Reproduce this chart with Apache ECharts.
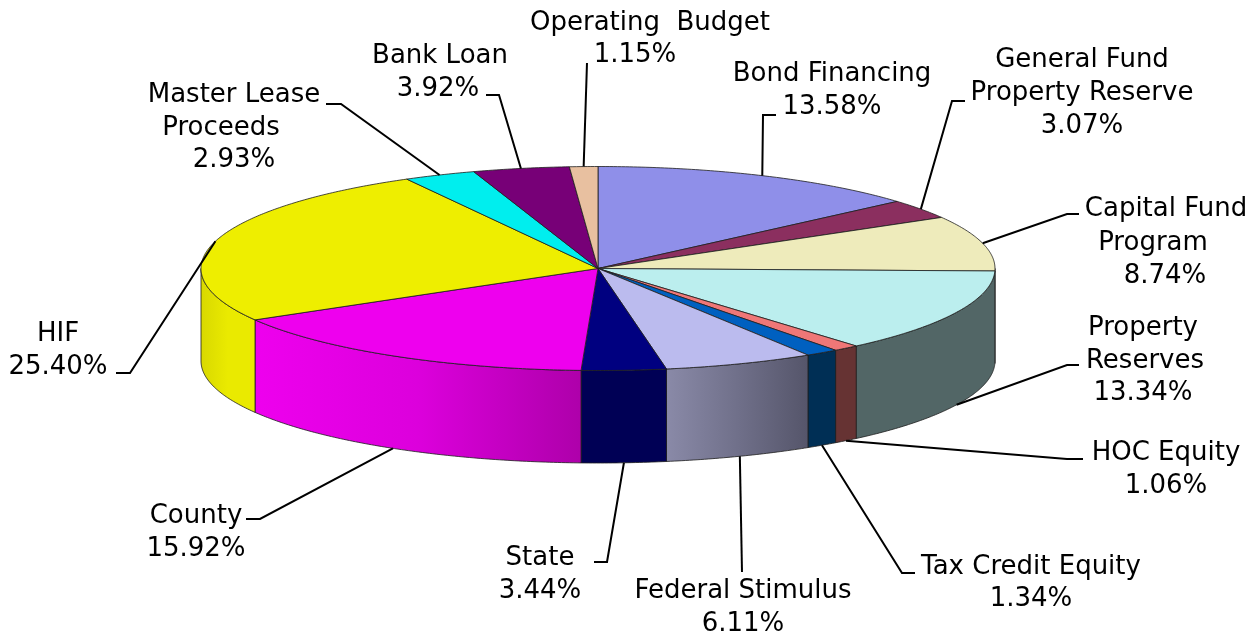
<!DOCTYPE html>
<html>
<head>
<meta charset="utf-8">
<style>
  html, body { margin: 0; padding: 0; background: #fff; }
  #chart { width: 1260px; height: 637px; }
</style>
<script src="https://cdn.jsdelivr.net/npm/echarts@6/dist/echarts.min.js"></script>
</head>
<body>
<div id="chart"></div>
<script>
// slices run clockwise from 12 o'clock
const names = ['Bond Financing', 'General Fund\nProperty Reserve', 'Capital Fund\nProgram', 'Property\nReserves',
    'HOC Equity', 'Tax Credit Equity', 'Federal Stimulus', 'State', 'County', 'HIF',
    'Master Lease\nProceeds', 'Bank Loan', 'Operating  Budget']
const shares = [13.58, 3.07, 8.74, 13.34, 1.06, 1.34, 6.11, 3.44, 15.92, 25.40, 2.93, 3.92, 1.15]

const topColors = ['#8f8fe9', '#8b2f5f', '#eeebbb', '#bbeeee', '#ef7777', '#0060c0', '#bbbbee',
    '#000080', '#ee00ee', '#eeee00', '#00eeee', '#770077', '#e8c0a0']
// left, middle, right of each wall
const wallColors = [['#5f5f9a', '#5f5f9a', '#5f5f9a'], ['#5c1f3f', '#5c1f3f', '#5c1f3f'], ['#66664f', '#66664f', '#66664f'],
    ['#526666', '#526666', '#526666'], ['#663333', '#663333', '#663333'], ['#002f55', '#002f55', '#002f55'],
    ['#8a8aa8', '#70708a', '#55556a'], ['#000055', '#000055', '#000055'], ['#ee00ee', '#dc00dc', '#ae00aa'],
    ['#d8d800', '#eaea00', '#eaea00'], ['#00aaaa', '#00aaaa', '#00aaaa'], ['#550055', '#550055', '#550055'],
    ['#a08870', '#a08870', '#a08870']]

// leader line bends and the centre of each text line, in slice order
const leaderBends = [
    [[763, 115], [776, 115]], [[952, 101], [965, 101]], [[1067, 214], [1079, 214]], [[1067, 365], [1079, 365]],
    [[1067, 459], [1083, 459]], [[902, 573], [915, 573]], [[742, 572]], [[607, 562], [594, 562]],
    [[260, 519], [246, 519]], [[130, 373], [116, 373]], [[341, 104], [326, 104]], [[499, 95], [486, 95]], [[587, 63]]
]
const textSpots = [
    [[832, 74], [832, 107]], [[1082, 60], [1082, 93], [1082, 126]], [[1166, 209], [1153, 243], [1165, 276]],
    [[1143, 328], [1145, 361], [1143, 393]], [[1166, 453], [1166, 486]], [[1031, 567], [1031, 599]],
    [[743, 591], [743, 624]], [[540, 558], [540, 591]], [[196, 516], [196, 549]], [[58, 334], [58, 367]],
    [[234, 95], [221, 128], [234, 160]], [[440, 56], [438, 89]], [[650, 23], [635, 55]]
]

const cx = 598, cy = 268.5, rx = 397, ry = 102, depth = 92.5
const total = shares.reduce((a, b) => a + b, 0)

const startOf = i => shares.slice(0, i).reduce((a, b) => a + b, 0) / total * Math.PI * 2
const rim = (t, drop) => [cx + rx * Math.sin(t), cy - ry * Math.cos(t) + (drop || 0)]
const arc = (a, b, drop) => {
    const n = Math.max(2, Math.ceil((b - a) / 0.01))
    const pts = []
    for (let k = 0; k <= n; k++) pts.push(rim(a + (b - a) * k / n, drop))
    return pts
}
const edge = { stroke: 'rgba(30,30,30,0.8)', lineWidth: 1 }

let myChart = echarts.init(document.getElementById('chart'), null, { renderer: 'canvas' })
const options = {
    animation: false,
    backgroundColor: '#fff',
    series: [
        {
            // side walls, only the half facing the viewer
            type: 'custom',
            coordinateSystem: 'none',
            silent: true,
            z: 1,
            data: shares.map((v, i) => [i, v]),
            renderItem: (params, api) => {
                const i = api.value(0)
                const a = Math.max(startOf(i), Math.PI / 2)
                const b = Math.min(startOf(i + 1), Math.PI * 1.5)
                if (b <= a) return null
                const pts = arc(a, b, 0).concat(arc(a, b, depth).reverse())
                return {
                    type: 'polygon',
                    shape: { points: pts },
                    style: {
                        ...edge,
                        fill: {
                            type: 'linear', x: 0, y: 0, x2: 1, y2: 0,
                            colorStops: wallColors[i].map((color, k) => ({ offset: k / 2, color: color }))
                        }
                    }
                }
            }
        },
        {
            // top face
            type: 'custom',
            coordinateSystem: 'none',
            silent: true,
            z: 2,
            data: shares.map((v, i) => [i, v]),
            renderItem: (params, api) => {
                const i = api.value(0)
                return {
                    type: 'polygon',
                    shape: { points: [[cx, cy]].concat(arc(startOf(i), startOf(i + 1), 0)) },
                    style: { ...edge, fill: topColors[i] }
                }
            }
        },
        {
            // labels and leader lines
            type: 'custom',
            coordinateSystem: 'none',
            silent: true,
            z: 3,
            data: shares.map((v, i) => [i, v]),
            renderItem: (params, api) => {
                const i = api.value(0)
                const mid = (startOf(i) + startOf(i + 1)) / 2
                // front slices take the line from the lower rim
                const from = rim(mid, Math.cos(mid) < 0 ? depth : 0)
                const lines = names[i].split('\n').concat(api.value(1).toFixed(2) + '%')
                const children = [{
                    type: 'polyline',
                    shape: { points: [from].concat(leaderBends[i]) },
                    style: { stroke: '#000', lineWidth: 2, fill: null }
                }]
                lines.forEach((text, k) => {
                    children.push({
                        type: 'text',
                        style: {
                            x: textSpots[i][k][0],
                            y: textSpots[i][k][1],
                            text: text,
                            fill: '#000',
                            font: '26px "DejaVu Sans"',
                            align: 'center',
                            verticalAlign: 'middle'
                        }
                    })
                })
                return { type: 'group', children: children }
            }
        }
    ]
}
myChart.setOption(options)
</script>
</body>
</html>
